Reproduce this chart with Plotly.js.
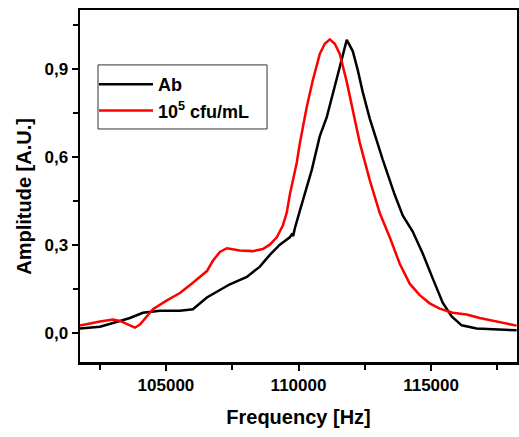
<!DOCTYPE html>
<html>
<head>
<meta charset="utf-8">
<script src="https://cdn.plot.ly/plotly-3.0.1.min.js"></script>
<style>
html, body { margin: 0; padding: 0; background: #fff; }
#chart { width: 519px; height: 437px; }
</style>
</head>
<body>
<div id="chart"></div>
<script>
// Ab (black)
const abFreq = [101760, 102513, 103267, 103643, 104133, 104774, 105528, 106017, 106545, 106922,
  107412, 108052, 108542, 108919, 109296, 109672, 109748, 109800, 109861, 110049, 110313, 110501,
  110803, 111066, 111368, 111632, 111820, 112046, 112235, 112423, 112687, 112950, 113176, 113629,
  113930, 114307, 114684, 115061, 115438, 115777, 116153, 116718, 118225];
const abAmp = [0.014, 0.020, 0.040, 0.050, 0.068, 0.075, 0.075, 0.080, 0.120, 0.140,
  0.165, 0.190, 0.225, 0.265, 0.300, 0.325, 0.335, 0.330, 0.355, 0.415, 0.495, 0.555,
  0.670, 0.735, 0.840, 0.935, 0.998, 0.960, 0.895, 0.820, 0.730, 0.655, 0.590, 0.470,
  0.400, 0.345, 0.270, 0.185, 0.102, 0.055, 0.025, 0.014, 0.008];

// 10^5 cfu/mL (red)
const cfuFreq = [101760, 102136, 102513, 103003, 103267, 103643, 103832, 104020, 104284, 104510,
  105038, 105528, 106017, 106545, 106771, 107035, 107298, 107788, 108278, 108655, 108919, 109182,
  109409, 109559, 109672, 109785, 109936, 110049, 110313, 110539, 110803, 110991, 111180, 111368,
  111557, 111820, 112046, 112310, 112687, 113064, 113441, 113818, 114194, 114571, 114948, 115325,
  115814, 116342, 116831, 117585, 118225];
const cfuAmp = [0.024, 0.032, 0.038, 0.045, 0.040, 0.025, 0.017, 0.028, 0.058, 0.080,
  0.110, 0.135, 0.170, 0.210, 0.245, 0.275, 0.288, 0.280, 0.278, 0.285, 0.300, 0.325,
  0.365, 0.410, 0.470, 0.515, 0.580, 0.645, 0.770, 0.860, 0.950, 0.985, 1.000, 0.985,
  0.950, 0.855, 0.758, 0.648, 0.520, 0.408, 0.325, 0.235, 0.167, 0.128, 0.100, 0.082,
  0.068, 0.062, 0.050, 0.036, 0.024];

const seriesNames = ['Ab', '10<sup>5</sup> cfu/mL'];
const xTitle = 'Frequency [Hz]';
const yTitle = 'Amplitude [A.U.]';

const FONT = 'Liberation Sans, Arial, sans-serif';

const traces = [
  { x: abFreq, y: abAmp, name: seriesNames[0], type: 'scatter', mode: 'lines',
    line: { color: '#000000', width: 2.5 }, legendgroup: 'a' },
  { x: cfuFreq, y: cfuAmp, name: seriesNames[1], type: 'scatter', mode: 'lines',
    line: { color: '#ff0000', width: 2.5 }, legendgroup: 'b' }
];

const axisCommon = {
  showline: true, linecolor: '#000', linewidth: 2.5, mirror: true,
  ticks: 'outside', ticklen: 6, tickwidth: 2, tickcolor: '#000',
  showgrid: false, zeroline: false,
  tickfont: { family: FONT, size: 17, color: '#000', weight: 'bold' }
};

const layout = {
  width: 519, height: 437,
  margin: { l: 80, r: 2, t: 10, b: 75 },
  paper_bgcolor: '#fff', plot_bgcolor: '#fff',
  separators: ', ',
  font: { family: FONT, color: '#000' },
  xaxis: Object.assign({}, axisCommon, {
    range: [101760, 118240], tick0: 0, dtick: 5000, tickformat: 'd',
    minor: { dtick: 2500, ticks: 'outside', ticklen: 5, tickwidth: 2, tickcolor: '#000' },
    title: { text: xTitle, font: { family: FONT, size: 20, weight: 'bold', color: '#000' }, standoff: 16 }
  }),
  yaxis: Object.assign({}, axisCommon, {
    range: [-0.1, 1.1], tick0: 0, dtick: 0.3, tickformat: '.1f',
    minor: { dtick: 0.15, ticks: 'outside', ticklen: 5, tickwidth: 2, tickcolor: '#000' }
  }),
  legend: {
    x: 0.032, y: 0.841, xanchor: 'left', yanchor: 'top',
    borderwidth: 0, bgcolor: 'rgba(255,255,255,0)',
    font: { family: FONT, size: 18, weight: 'bold', color: '#000' },
    traceorder: 'grouped', tracegroupgap: 0, itemwidth: 54
  },
  shapes: [
    { type: 'rect', xref: 'paper', yref: 'paper', x0: 0.0412, x1: 0.428, y0: 0.662, y1: 0.844,
      line: { color: '#333', width: 1 }, fillcolor: 'rgba(0,0,0,0)', layer: 'above' }
  ],
  annotations: [
    { text: yTitle, xref: 'paper', yref: 'paper', x: -0.13, y: 0.47,
      xanchor: 'center', yanchor: 'middle', textangle: -90, showarrow: false,
      font: { family: FONT, size: 20, weight: 'bold', color: '#000' } }
  ]
};

Plotly.newPlot('chart', traces, layout, { staticPlot: true, displayModeBar: false });
</script>
</body>
</html>
